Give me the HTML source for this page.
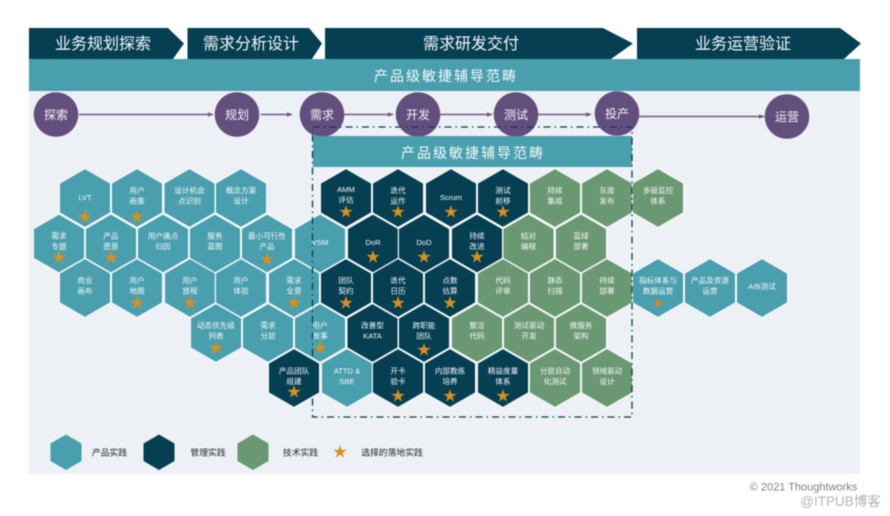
<!DOCTYPE html>
<html lang="zh">
<head>
<meta charset="utf-8">
<title>产品级敏捷辅导范畴</title>
<style>
html,body{margin:0;padding:0;background:#fff}
svg{display:block;filter:blur(.45px)}
text{font-family:"Liberation Sans","Noto Sans CJK SC",sans-serif;text-anchor:middle}
.h text{font-size:7.6px;fill:#f6f9f9}
.c{font-size:12px;fill:#f4f2f7}
.t{font-size:14px;fill:#f4fafa;letter-spacing:2px}
.b{font-size:16px;fill:#f2f7f8}
.l{font-size:8.8px;fill:#20292e}
</style>
</head>
<body>
<svg width="890" height="516" viewBox="0 0 890 516" xmlns="http://www.w3.org/2000/svg">
<defs>
<polygon id="t" fill="#4a9fae" stroke="#f6f8f9" stroke-width="1.2" points="0,-29.5 25.6,-14.8 25.6,14.8 0,29.5 -25.6,14.8 -25.6,-14.8"/>
<polygon id="d" fill="#063f52" stroke="#f6f8f9" stroke-width="1.2" points="0,-29.5 25.6,-14.8 25.6,14.8 0,29.5 -25.6,14.8 -25.6,-14.8"/>
<polygon id="g" fill="#6a9873" stroke="#f6f8f9" stroke-width="1.2" points="0,-29.5 25.6,-14.8 25.6,14.8 0,29.5 -25.6,14.8 -25.6,-14.8"/>
<polygon id="s" fill="#d8901f" points="0,-7 1.57,-2.16 6.66,-2.16 2.54,.83 4.11,5.66 0,2.67 -4.11,5.66 -2.54,.83 -6.66,-2.16 -1.57,-2.16"/>
<polygon id="s2" fill="#d9841f" points="0,-5.5 1.23,-1.7 5.23,-1.7 2,.65 3.23,4.45 0,2.1 -3.23,4.45 -2,.65 -5.23,-1.7 -1.23,-1.7"/>
<marker id="a" markerWidth="6" markerHeight="6" refX="5" refY="3" orient="auto" markerUnits="userSpaceOnUse"><polygon points="0,.8 5.5,3 0,5.2" fill="#6e5b85"/></marker>
</defs>

<rect x="29" y="91" width="831" height="383" fill="#edf0f4"/>

<polygon points="29,28 168,28 184,43.5 173,59 29,59" fill="#063f52"/>
<polygon points="187.5,28 309,28 322,43.5 312,59 187.5,59" fill="#063f52"/>
<polygon points="325,28 603,28 633,43.5 611,59 325,59" fill="#063f52"/>
<polygon points="637,28 840,28 861,43.5 844,59 637,59" fill="#063f52"/>
<text class="b" x="103" y="49">业务规划探索</text>
<text class="b" x="251" y="49">需求分析设计</text>
<text class="b" x="471" y="49">需求研发交付</text>
<text class="b" x="743" y="49">业务运营验证</text>

<rect x="29" y="59" width="831" height="32" fill="#4a9fae"/>
<text class="t" x="446" y="81">产品级敏捷辅导范畴</text>

<g stroke="#6e5b85" stroke-width="1.5" fill="none">
<line x1="79" y1="114.5" x2="213" y2="114.5" marker-end="url(#a)"/>
<line x1="261" y1="114.5" x2="292" y2="114.5" marker-end="url(#a)"/>
<line x1="344" y1="114.5" x2="393" y2="114.5" marker-end="url(#a)"/>
<line x1="440" y1="114.5" x2="492" y2="114.5" marker-end="url(#a)"/>
<line x1="538" y1="114.5" x2="591" y2="114.5" marker-end="url(#a)"/>
<line x1="639" y1="116.5" x2="764" y2="116.5" marker-end="url(#a)"/>
</g>
<g fill="#634f7d">
<circle cx="56" cy="114.5" r="22.3"/>
<circle cx="237" cy="114.5" r="22.3"/>
<circle cx="322" cy="114.5" r="22.3"/>
<circle cx="418" cy="114.5" r="22.3"/>
<circle cx="516" cy="114.5" r="22.3"/>
<circle cx="617" cy="113.5" r="22.3"/>
<circle cx="787" cy="116.5" r="22.3"/>
</g>
<text class="c" x="56" y="119">探索</text>
<text class="c" x="237" y="119">规划</text>
<text class="c" x="322" y="119">需求</text>
<text class="c" x="418" y="119">开发</text>
<text class="c" x="516" y="119">测试</text>
<text class="c" x="617" y="118">投产</text>
<text class="c" x="787" y="121">运营</text>

<rect x="313" y="136" width="319" height="31" fill="#4a9fae"/>
<text class="t" x="473" y="158">产品级敏捷辅导范畴</text>

<!-- row 1 -->
<g class="h" transform="translate(85,198)"><use href="#t"/><text y="2">LVT</text><use href="#s" y="19"/></g>
<g class="h" transform="translate(137,198)"><use href="#t"/><text y="-5">用户</text><text y="5.5">画像</text><use href="#s" y="19"/></g>
<g class="h" transform="translate(189.5,198)"><use href="#t"/><text y="-5">设计机会</text><text y="5.5">点识别</text></g>
<g class="h" transform="translate(241,198)"><use href="#t"/><text y="-5">概念方案</text><text y="5.5">设计</text></g>
<g class="h" transform="translate(346,198)"><use href="#d"/><text y="-6">AMM</text><text y="4.5">评估</text><use href="#s" y="14"/></g>
<g class="h" transform="translate(398,198)"><use href="#d"/><text y="-5">迭代</text><text y="5.5">运作</text><use href="#s" y="14"/></g>
<g class="h" transform="translate(451,198)"><use href="#d"/><text y="2">Scrum</text><use href="#s" y="14"/></g>
<g class="h" transform="translate(503,198)"><use href="#d"/><text y="-5">测试</text><text y="5.5">前移</text><use href="#s" y="14"/></g>
<g class="h" transform="translate(555,198)"><use href="#g"/><text y="-5">持续</text><text y="5.5">集成</text></g>
<g class="h" transform="translate(607,198)"><use href="#g"/><text y="-5">灰度</text><text y="5.5">发布</text></g>
<g class="h" transform="translate(658,198)"><use href="#g"/><text y="-5">多级监控</text><text y="5.5">体系</text></g>

<!-- row 2 -->
<g class="h" transform="translate(59,243.5)"><use href="#t"/><text y="-5">需求</text><text y="5.5">专题</text><use href="#s" y="14"/></g>
<g class="h" transform="translate(111,243.5)"><use href="#t"/><text y="-5">产品</text><text y="5.5">愿景</text><use href="#s" y="14"/></g>
<g class="h" transform="translate(163,243.5)"><use href="#t"/><text y="-5">用户痛点</text><text y="5.5">归因</text></g>
<g class="h" transform="translate(215,243.5)"><use href="#t"/><text y="-5">服务</text><text y="5.5">蓝图</text></g>
<g class="h" transform="translate(267,243.5)"><use href="#t"/><text y="-5">最小可行性</text><text y="5.5">产品</text><use href="#s" y="16"/></g>
<g class="h" transform="translate(320,243.5)"><use href="#t"/><text y="1.5">VSM</text></g>
<g class="h" transform="translate(373,243.5)"><use href="#d"/><text y="1.5">DoR</text><use href="#s" y="13.5"/></g>
<g class="h" transform="translate(424,243.5)"><use href="#d"/><text y="1.5">DoD</text><use href="#s" y="13.5"/></g>
<g class="h" transform="translate(477,243.5)"><use href="#d"/><text y="-5">持续</text><text y="5.5">改进</text><use href="#s" y="13.5"/></g>
<g class="h" transform="translate(528.5,243.5)"><use href="#g"/><text y="-5">结对</text><text y="5.5">编程</text></g>
<g class="h" transform="translate(581,243.5)"><use href="#g"/><text y="-5">蓝绿</text><text y="5.5">部署</text></g>

<!-- row 3 -->
<g class="h" transform="translate(85,288)"><use href="#t"/><text y="-5">商业</text><text y="5.5">画布</text></g>
<g class="h" transform="translate(137,288)"><use href="#t"/><text y="-5">用户</text><text y="5.5">地图</text><use href="#s" y="15"/></g>
<g class="h" transform="translate(190,288)"><use href="#t"/><text y="-5">用户</text><text y="5.5">旅程</text><use href="#s" y="15"/></g>
<g class="h" transform="translate(241,288)"><use href="#t"/><text y="-5">用户</text><text y="5.5">体验</text></g>
<g class="h" transform="translate(294,288)"><use href="#t"/><text y="-5">需求</text><text y="5.5">全景</text><use href="#s" y="15"/></g>
<g class="h" transform="translate(346,288)"><use href="#d"/><text y="-5">团队</text><text y="5.5">契约</text><use href="#s" y="15"/></g>
<g class="h" transform="translate(398,288)"><use href="#d"/><text y="-5">迭代</text><text y="5.5">日历</text><use href="#s" y="15"/></g>
<g class="h" transform="translate(450,288)"><use href="#d"/><text y="-5">点数</text><text y="5.5">估算</text><use href="#s" y="15"/></g>
<g class="h" transform="translate(503,288)"><use href="#g"/><text y="-5">代码</text><text y="5.5">评审</text></g>
<g class="h" transform="translate(555,288)"><use href="#g"/><text y="-5">静态</text><text y="5.5">扫描</text></g>
<g class="h" transform="translate(607,288)"><use href="#g"/><text y="-5">持续</text><text y="5.5">部署</text></g>
<g class="h" transform="translate(658,288)"><use href="#t"/><text y="-5">指标体系与</text><text y="5.5">数据运营</text><use href="#s2" y="15"/></g>
<g class="h" transform="translate(710,288)"><use href="#t"/><text y="-5">产品及资源</text><text y="5.5">运营</text></g>
<g class="h" transform="translate(762,288)"><use href="#t"/><text y="1">A/B测试</text></g>

<!-- row 4 -->
<g class="h" transform="translate(216,333)"><use href="#t"/><text y="-5">动态优先级</text><text y="5.5">列表</text><use href="#s" y="15"/></g>
<g class="h" transform="translate(268,333)"><use href="#t"/><text y="-5">需求</text><text y="5.5">分层</text></g>
<g class="h" transform="translate(320,333)"><use href="#t"/><text y="-5">用户</text><text y="5.5">故事</text><use href="#s" y="15"/></g>
<g class="h" transform="translate(372.5,333)"><use href="#d"/><text y="-5">改善型</text><text y="5.5">KATA</text></g>
<g class="h" transform="translate(424,333)"><use href="#d"/><text y="-5">跨职能</text><text y="5.5">团队</text><use href="#s" y="17"/></g>
<g class="h" transform="translate(477,333)"><use href="#g"/><text y="-5">整洁</text><text y="5.5">代码</text></g>
<g class="h" transform="translate(529,333)"><use href="#g"/><text y="-5">测试驱动</text><text y="5.5">开发</text></g>
<g class="h" transform="translate(581,333)"><use href="#g"/><text y="-5">微服务</text><text y="5.5">架构</text></g>

<!-- row 5 -->
<g class="h" transform="translate(294,378)"><use href="#d"/><text y="-4.5">产品团队</text><text y="6">组建</text><use href="#s" y="14"/></g>
<g class="h" transform="translate(347,378)"><use href="#t"/><text y="-4.5">ATTD &amp;</text><text y="6">SBE</text></g>
<g class="h" transform="translate(398,378)"><use href="#d"/><text y="-4.5">开卡</text><text y="6">验卡</text><use href="#s" y="18"/></g>
<g class="h" transform="translate(450,378)"><use href="#d"/><text y="-4.5">内部教练</text><text y="6">培养</text><use href="#s" y="18"/></g>
<g class="h" transform="translate(503,378)"><use href="#d"/><text y="-4.5">精益度量</text><text y="6">体系</text><use href="#s" y="18"/></g>
<g class="h" transform="translate(555,378)"><use href="#g"/><text y="-4.5">分层自动</text><text y="6">化测试</text></g>
<g class="h" transform="translate(607,378)"><use href="#g"/><text y="-4.5">领域驱动</text><text y="6">设计</text></g>

<!-- dash-dot frame -->
<rect x="312.5" y="127" width="319.5" height="290" fill="none" stroke="#063f52" stroke-width="1.3" stroke-dasharray="7 4 1.5 4"/>

<!-- legend -->
<polygon points="66,434.5 81.5,443.5 81.5,461 66,470 50.5,461 50.5,443.5" fill="#4a9fae"/>
<polygon points="159,434.5 174.5,443.5 174.5,461 159,470 143.5,461 143.5,443.5" fill="#063f52"/>
<polygon points="253,434.5 268.5,443.5 268.5,461 253,470 237.5,461 237.5,443.5" fill="#6a9873"/>
<use href="#s" x="340" y="452"/>
<text class="l" x="109.5" y="455.5">产品实践</text>
<text class="l" x="208" y="455.5">管理实践</text>
<text class="l" x="300.5" y="455.5">技术实践</text>
<text class="l" x="392" y="455.5">选择的落地实践</text>

<!-- footer -->
<text x="803.5" y="490.5" style="font-size:11px;fill:#7c8084">© 2021 Thoughtworks</text>
<text x="840.5" y="506" style="font-size:13.5px;fill:#b4b4b4">@ITPUB博客</text>
</svg>
</body>
</html>
